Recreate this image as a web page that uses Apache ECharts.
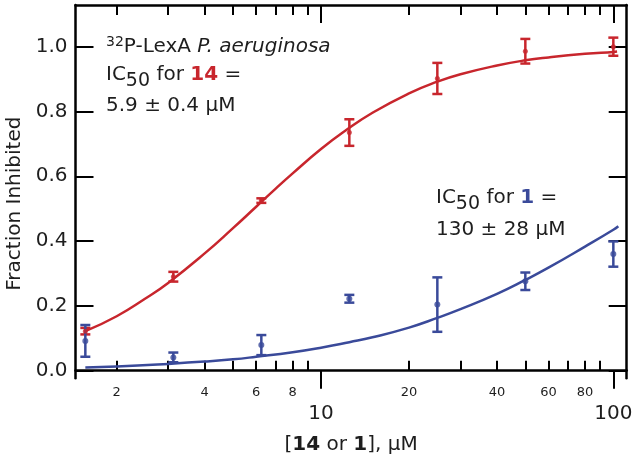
<!DOCTYPE html>
<html>
<head>
<meta charset="utf-8">
<script src="https://cdn.jsdelivr.net/npm/echarts@6/dist/echarts.min.js"></script>
<style>
html,body{margin:0;padding:0;background:#fff;}
#chart{width:634px;height:461px;}
</style>
</head>
<body>
<div id="chart"></div>
<script>
// ---- data ----
const conc = [1.5625, 3.125, 6.25, 12.5, 25, 50, 100];
const mean14 = [0.122, 0.290, 0.525, 0.735, 0.902, 0.986, 1.000];
const err14  = [0.010, 0.015, 0.007, 0.041, 0.048, 0.038, 0.028];
const mean1  = [0.092, 0.041, 0.079, 0.222, 0.204, 0.276, 0.360];
const err1   = [0.049, 0.015, 0.031, 0.012, 0.084, 0.027, 0.039];

// fitted curves
const fitX14 = [1.5625, 2, 2.5, 3, 4, 5, 6, 7, 8, 10, 12, 15, 20, 25, 30, 40, 50, 60, 80, 100, 103];
const fitY14 = [0.122, 0.168, 0.222, 0.271, 0.362, 0.440, 0.506, 0.562, 0.609, 0.684, 0.738, 0.796, 0.856, 0.892, 0.915, 0.942, 0.958, 0.967, 0.978, 0.984, 0.985];
const fitX1  = [1.5625, 2, 3, 4, 5, 6, 8, 10, 12.5, 15, 20, 25, 30, 40, 50, 60, 80, 100, 104];
const fitY1  = [0.010, 0.013, 0.021, 0.028, 0.035, 0.043, 0.057, 0.071, 0.088, 0.103, 0.133, 0.163, 0.190, 0.237, 0.280, 0.318, 0.383, 0.435, 0.446];

// axes
const yTicks = [0, 0.2, 0.4, 0.6, 0.8, 1.0];
const xMinorTicks = [2, 3, 4, 5, 6, 7, 8, 9, 20, 30, 40, 50, 60, 70, 80, 90];
const xMinorLabels = [2, 4, 6, 8, 20, 40, 60, 80];
const xMajorTicks = [10, 100];
const xRange = [1.446, 111.1];
const yRange = [-0.0235, 1.1287];

const RED = '#c8262d';
const BLUE = '#3a4a9a';
const FONT = 'DejaVu Sans';
const INK = '#1e1e1e';

function pairs(xs, ys) { return xs.map((x, i) => [x, ys[i]]); }
function errData(xs, m, e) { return xs.map((x, i) => [x, m[i] - e[i], m[i] + e[i]]); }

function errRender(color) {
  return function (params, api) {
    const x = api.value(0);
    const lo = api.coord([x, api.value(1)]);
    const hi = api.coord([x, api.value(2)]);
    const w = 5;
    const st = { stroke: color, lineWidth: 2.5 };
    return {
      type: 'group',
      children: [
        { type: 'line', shape: { x1: lo[0], y1: lo[1], x2: hi[0], y2: hi[1] }, style: st },
        { type: 'line', shape: { x1: lo[0] - w, y1: lo[1], x2: lo[0] + w, y2: lo[1] }, style: st },
        { type: 'line', shape: { x1: hi[0] - w, y1: hi[1], x2: hi[0] + w, y2: hi[1] }, style: st }
      ]
    };
  };
}

const axisLineStyle = { color: '#000', width: 2.5 };
const tickStyle = { color: '#000', width: 2 };

function xAxisBase(extra) {
  return Object.assign({
    type: 'log', logBase: 10, min: xRange[0], max: xRange[1],
    splitLine: { show: false }, minorTick: { show: false }
  }, extra);
}

const chart = echarts.init(document.getElementById('chart'), null, { renderer: 'canvas' });
chart.setOption({
  animation: false,
  backgroundColor: '#fff',
  textStyle: { fontFamily: FONT },
  grid: { left: 75.5, right: 7.3, top: 5, bottom: 82.7, containLabel: false, outerBoundsMode: 'none' },
  xAxis: [
    xAxisBase({
      position: 'bottom',
      axisLine: { show: true, lineStyle: axisLineStyle },
      axisTick: { show: true, inside: true, length: 10, lineStyle: tickStyle, customValues: xMinorTicks },
      axisLabel: { show: true, customValues: xMinorLabels, fontSize: 13, color: INK, margin: 8, fontFamily: FONT,
        formatter: v => String(Math.round(v)) },
      name: '[{b|14} or {b|1}], μM',
      nameLocation: 'middle',
      nameGap: 56,
      nameTextStyle: { fontSize: 20, color: INK, fontFamily: FONT,
        rich: { b: { fontSize: 20, fontWeight: 'bold', color: INK, fontFamily: FONT } } }
    }),
    xAxisBase({
      position: 'bottom',
      axisLine: { show: false },
      axisTick: { show: true, inside: false, length: 18, lineStyle: tickStyle, customValues: xMajorTicks },
      axisLabel: { show: true, customValues: xMajorTicks, fontSize: 20, color: INK, margin: 25, fontFamily: FONT,
        formatter: v => String(Math.round(v)) }
    }),
    xAxisBase({
      position: 'top',
      axisLine: { show: true, lineStyle: axisLineStyle },
      axisTick: { show: true, inside: true, length: 10, lineStyle: tickStyle, customValues: xMinorTicks },
      axisLabel: { show: false }
    }),
    xAxisBase({
      position: 'top',
      axisLine: { show: false },
      axisTick: { show: true, inside: true, length: 18, lineStyle: tickStyle, customValues: xMajorTicks },
      axisLabel: { show: false }
    })
  ],
  yAxis: [
    {
      type: 'value', position: 'left', min: yRange[0], max: yRange[1],
      splitLine: { show: false },
      axisLine: { show: true, lineStyle: axisLineStyle },
      axisTick: { show: true, inside: true, length: 18, lineStyle: tickStyle, customValues: yTicks },
      axisLabel: { show: true, customValues: yTicks, fontSize: 20, color: INK, margin: 8, fontFamily: FONT,
        formatter: v => v.toFixed(1) },
      name: 'Fraction Inhibited',
      nameLocation: 'middle',
      nameGap: 51,
      nameTextStyle: { fontSize: 20, color: INK, fontFamily: FONT, padding: [0, 24, 0, 0] }
    },
    {
      type: 'value', position: 'right', min: yRange[0], max: yRange[1],
      splitLine: { show: false },
      axisLine: { show: true, lineStyle: axisLineStyle },
      axisTick: { show: true, inside: true, length: 18, lineStyle: tickStyle, customValues: yTicks },
      axisLabel: { show: false }
    }
  ],
  series: [
    { type: 'line', name: 'fit 14', data: pairs(fitX14, fitY14), smooth: 0.5, showSymbol: false,
      lineStyle: { color: RED, width: 2.5 }, itemStyle: { color: RED }, z: 2 },
    { type: 'line', name: 'fit 1', data: pairs(fitX1, fitY1), smooth: 0.5, showSymbol: false,
      lineStyle: { color: BLUE, width: 2.5 }, itemStyle: { color: BLUE }, z: 2 },
    { type: 'custom', name: 'err 14', data: errData(conc, mean14, err14), renderItem: errRender(RED),
      encode: { x: 0, y: [1, 2] }, z: 3 },
    { type: 'custom', name: 'err 1', data: errData(conc, mean1, err1), renderItem: errRender(BLUE),
      encode: { x: 0, y: [1, 2] }, z: 3 },
    { type: 'scatter', name: '14', data: pairs(conc, mean14), symbol: 'circle', symbolSize: 5,
      itemStyle: { color: RED }, z: 4 },
    { type: 'scatter', name: '1', data: pairs(conc, mean1), symbol: 'circle', symbolSize: 6,
      itemStyle: { color: BLUE }, z: 4 }
  ],
  graphic: [
    { type: 'text', x: 106, y: 47, style: {
        text: '{sup|32}P-LexA {it|P. aeruginosa}', fontSize: 20, fontFamily: FONT, fill: INK, verticalAlign: 'middle',
        rich: {
          sup: { fontSize: 14, fontFamily: FONT, fill: INK, padding: [0, 0, 10, 0], verticalAlign: 'middle' },
          it: { fontSize: 20, fontFamily: FONT, fontStyle: 'italic', fill: INK, verticalAlign: 'middle' }
        } } },
    { type: 'text', x: 106, y: 75, style: {
        text: 'IC{sub|50} for {b|14} =', fontSize: 20, fontFamily: FONT, fill: INK, verticalAlign: 'middle',
        rich: {
          sub: { fontSize: 19, fontFamily: FONT, fill: INK, padding: [12, 0, 0, 0], verticalAlign: 'middle' },
          b: { fontSize: 20, fontFamily: FONT, fontWeight: 'bold', fill: RED, verticalAlign: 'middle' }
        } } },
    { type: 'text', x: 106, y: 106, style: {
        text: '5.9 ± 0.4 μM', fontSize: 20, fontFamily: FONT, fill: INK, verticalAlign: 'middle' } },
    { type: 'text', x: 436, y: 198, style: {
        text: 'IC{sub|50} for {b|1} =', fontSize: 20, fontFamily: FONT, fill: INK, verticalAlign: 'middle',
        rich: {
          sub: { fontSize: 19, fontFamily: FONT, fill: INK, padding: [12, 0, 0, 0], verticalAlign: 'middle' },
          b: { fontSize: 20, fontFamily: FONT, fontWeight: 'bold', fill: BLUE, verticalAlign: 'middle' }
        } } },
    { type: 'text', x: 436, y: 230, style: {
        text: '130 ± 28 μM', fontSize: 20, fontFamily: FONT, fill: INK, verticalAlign: 'middle' } }
  ]
});
</script>
</body>
</html>
